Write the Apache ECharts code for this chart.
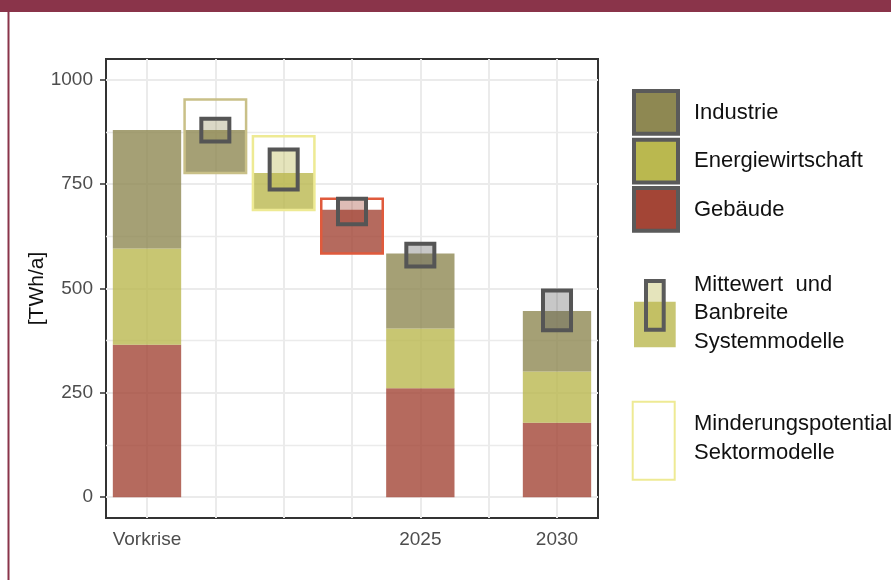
<!DOCTYPE html>
<html><head><meta charset="utf-8">
<script src="https://cdn.jsdelivr.net/npm/echarts@6/dist/echarts.min.js"></script>
<style>html,body{margin:0;padding:0;background:#fff}#c{width:891px;height:580px}</style>
</head><body><div id="c"></div>
<script>
// ---------- data ----------
const categories = ['Vorkrise', '', '', '', '2025', '', '2030'];
const sectors = ['Industrie', 'Energiewirtschaft', 'Gebäude'];
const yTicks = [0, 250, 500, 750, 1000];
const yMinorTicks = [125, 375, 625, 875];
// stacked bars (Vorkrise, 2025, 2030)
const barPositions = [0, 4, 6];
const gebaeude = [365, 261, 178];
const energiewirtschaft = [231, 143, 123];
const industrie = [284, 180, 145];
// waterfall steps (system models) at positions 1..3, sector index 0..2
const stepPositions = [1, 2, 3];
const stepSector = [0, 1, 2];
const stepUpper = [880, 777, 689];
const stepLower = [777, 689, 584];
// Minderungspotential Sektormodelle
const sectorRangeLow = [777, 688, 584];
const sectorRangeHigh = [953, 865, 715];
// Mittelwert und Bandbreite Systemmodelle
const meanPositions = [1, 2, 3, 4, 6];
const meanSector = [0, 1, 2, -1, -1];
const meanLow = [852, 737, 654, 553, 400];
const meanHigh = [907, 833, 715, 607, 495];

// ---------- styles ----------
const FONT = '"Liberation Sans", Arial, sans-serif';
const sectorColors = ['#8e8852', '#bab84f', '#a34536'];
const outlineColors = ['#c9c088', '#eeea94', '#e05a3c'];
const meanFills = ['rgba(142,136,82,0.33)', 'rgba(186,184,79,0.38)', 'rgba(163,69,54,0.36)'];
const meanFillTotal = 'rgba(85,85,85,0.33)';

// build stacked items: [pos, low, high, sector]
const stackItems = [];
barPositions.forEach((p, i) => {
  const g = gebaeude[i], e = energiewirtschaft[i], ind = industrie[i];
  stackItems.push([p, 0, g, 2]);
  stackItems.push([p, g, g + e, 1]);
  stackItems.push([p, g + e, g + e + ind, 0]);
});
const stepItems = stepPositions.map((p, i) => [p, stepLower[i], stepUpper[i], stepSector[i]]);
const rangeItems = stepPositions.map((p, i) => [p, sectorRangeLow[i], sectorRangeHigh[i], stepSector[i]]);
const meanItems = meanPositions.map((p, i) => [p, meanLow[i], meanHigh[i], meanSector[i]]);

function rectRenderer(w, styleFn) {
  return function (params, api) {
    const x = api.value(0), lo = api.value(1), hi = api.value(2), s = api.value(3);
    const a = api.coord([x - w / 2, hi]);
    const b = api.coord([x + w / 2, lo]);
    return { type: 'rect', shape: { x: a[0], y: a[1], width: b[0] - a[0], height: b[1] - a[1] }, style: styleFn(s) };
  };
}

const chart = echarts.init(document.getElementById('c'), null, { renderer: 'canvas' });

const graphic = [
  { type: 'rect', shape: { x: 0, y: 0, width: 891, height: 12 }, style: { fill: '#8a344a' }, silent: true },
  { type: 'rect', shape: { x: 7.5, y: 12, width: 2, height: 568 }, style: { fill: '#8a344a' }, silent: true }
];
// legend: sector keys
const keyY = [91, 139.7, 188];
sectors.forEach((name, i) => {
  graphic.push({ type: 'rect', shape: { x: 634, y: keyY[i], width: 44, height: 42.7 },
    style: { fill: sectorColors[i], stroke: '#5a5a5a', lineWidth: 4 }, z: 10 });
  graphic.push({ type: 'text', style: { text: name, x: 694, y: keyY[i] + 21.5, fill: '#111', font: '22px ' + FONT, verticalAlign: 'middle' }, z: 10 });
});
// legend: Mittelwert key
graphic.push({ type: 'rect', shape: { x: 634, y: 301.7, width: 41.7, height: 45.6 }, style: { fill: 'rgba(186,184,79,0.8)' }, z: 10 });
graphic.push({ type: 'rect', shape: { x: 646, y: 281, width: 17.7, height: 48.7 }, style: { fill: meanFills[1], stroke: '#5a5a5a', lineWidth: 4 }, z: 11 });
['Mittewert  und', 'Banbreite', 'Systemmodelle'].forEach((t, i) => {
  graphic.push({ type: 'text', style: { text: t, x: 694, y: 285 + i * 28.3, fill: '#111', font: '22px ' + FONT, verticalAlign: 'middle' }, z: 10 });
});
// legend: Minderungspotential key
graphic.push({ type: 'rect', shape: { x: 632.7, y: 401.7, width: 42, height: 78 }, style: { fill: 'none', stroke: '#eeea94', lineWidth: 2 }, z: 10 });
['Minderungspotential', 'Sektormodelle'].forEach((t, i) => {
  graphic.push({ type: 'text', style: { text: t, x: 694, y: 424.3 + i * 29, fill: '#111', font: '22px ' + FONT, verticalAlign: 'middle' }, z: 10 });
});

const option = {
  animation: false,
  backgroundColor: '#ffffff',
  grid: { left: 106, top: 59, width: 492, height: 459, show: true, borderColor: '#333333', borderWidth: 2, backgroundColor: 'transparent' },
  xAxis: {
    type: 'value', min: -0.6, max: 6.6,
    axisLine: { show: false },
    axisTick: { show: false, customValues: categories.map((c, i) => i) },
    axisLabel: { customValues: categories.map((c, i) => i).filter(i => categories[i] !== ''),
      formatter: v => categories[Math.round(v)], fontSize: 19, color: '#4d4d4d', margin: 12, fontFamily: FONT },
    splitLine: { show: true, lineStyle: { color: '#ebebeb', width: 2 } }
  },
  yAxis: [
    { type: 'value', min: -50, max: 1050, axisLine: { show: false },
      axisTick: { show: false, customValues: yMinorTicks }, axisLabel: { show: false },
      splitLine: { show: true, lineStyle: { color: '#ebebeb', width: 1.4 } } },
    { type: 'value', min: -50, max: 1050, position: 'left', axisLine: { show: false },
      axisTick: { show: true, length: 6, customValues: yTicks, lineStyle: { color: '#333', width: 1.5 } },
      axisLabel: { customValues: yTicks, formatter: v => String(v), fontSize: 19, color: '#4d4d4d', margin: 13, fontFamily: FONT },
      splitLine: { show: true, lineStyle: { color: '#ebebeb', width: 2 } },
      name: '[TWh/a]', nameLocation: 'middle', nameGap: 58, nameRotate: 90, nameMoveOverlap: false,
      nameTextStyle: { fontSize: 21, color: '#111', fontFamily: FONT } }
  ],
  graphic: graphic,
  series: [
    { type: 'custom', name: 'stack', data: stackItems, z: 2,
      renderItem: rectRenderer(1.0, s => ({ fill: sectorColors[s], opacity: 0.8 })) },
    { type: 'custom', name: 'steps', data: stepItems, z: 3,
      renderItem: rectRenderer(0.9, s => ({ fill: sectorColors[s], opacity: 0.8 })) },
    { type: 'custom', name: 'ranges', data: rangeItems, z: 4,
      renderItem: rectRenderer(0.9, s => ({ fill: 'none', stroke: outlineColors[s], lineWidth: 2.5 })) },
    { type: 'custom', name: 'mean', data: meanItems, z: 5,
      renderItem: rectRenderer(0.41, s => ({ fill: s >= 0 ? meanFills[s] : meanFillTotal, stroke: '#555555', lineWidth: 4 })) }
  ]
};
chart.setOption(option);
</script>
</body></html>
